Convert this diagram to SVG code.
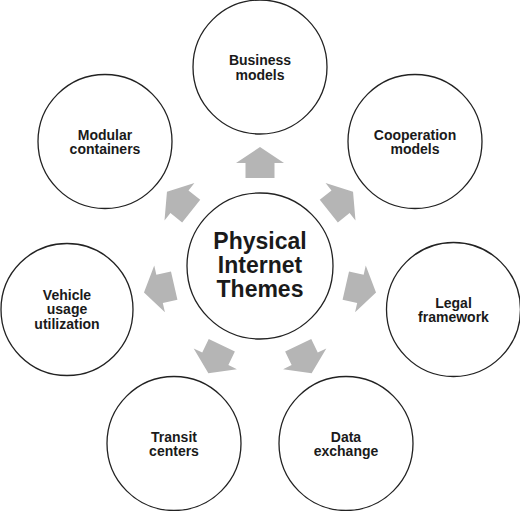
<svg xmlns="http://www.w3.org/2000/svg" xmlns:xlink="http://www.w3.org/1999/xlink" width="520" height="511" viewBox="0 0 520 511">
<style>
.c{fill:#fff;stroke:#222;stroke-width:1.3}
.t{font-family:"Liberation Sans",Arial,sans-serif;font-weight:bold;font-size:14px;fill:#1a1a1a;text-anchor:middle}
.tc{font-size:23px}
.a{fill:#b5b5b5}
</style>
<defs>
<polygon id="arr" class="a" points="245.5,178 245.5,163 236,163 260,147 284,163 274.5,163 274.5,178"/>
</defs>
<rect width="520" height="511" fill="#fff"/>
<g id="connectors">
<use href="#arr" xlink:href="#arr"/>
<use href="#arr" xlink:href="#arr" transform="rotate(51.4286 260 266)"/>
<use href="#arr" xlink:href="#arr" transform="rotate(102.857 260 266)"/>
<use href="#arr" xlink:href="#arr" transform="rotate(154.286 260 266)"/>
<use href="#arr" xlink:href="#arr" transform="rotate(205.714 260 266)"/>
<use href="#arr" xlink:href="#arr" transform="rotate(257.143 260 266)"/>
<use href="#arr" xlink:href="#arr" transform="rotate(308.571 260 266)"/>
</g>
<g id="center">
<circle class="c" cx="260" cy="266" r="73"/>
<text class="t tc" x="260" y="249">Physical</text>
<text class="t tc" x="260" y="273">Internet</text>
<text class="t tc" x="260" y="297">Themes</text>
</g>
<g id="business">
<circle class="c" cx="260" cy="67" r="67"/>
<text class="t" x="260" y="65">Business</text>
<text class="t" x="260" y="79.5">models</text>
</g>
<g id="cooperation">
<circle class="c" cx="415" cy="141.5" r="67"/>
<text class="t" x="415" y="139.5">Cooperation</text>
<text class="t" x="415" y="154">models</text>
</g>
<g id="legal">
<circle class="c" cx="453.5" cy="309.5" r="67"/>
<text class="t" x="453.5" y="307.5">Legal</text>
<text class="t" x="453.5" y="322">framework</text>
</g>
<g id="data">
<circle class="c" cx="346" cy="443.5" r="67"/>
<text class="t" x="346" y="441.5">Data</text>
<text class="t" x="346" y="456">exchange</text>
</g>
<g id="transit">
<circle class="c" cx="174" cy="443.5" r="67"/>
<text class="t" x="174" y="441.5">Transit</text>
<text class="t" x="174" y="456">centers</text>
</g>
<g id="vehicle">
<circle class="c" cx="67" cy="309.5" r="66"/>
<text class="t" x="67" y="299.5">Vehicle</text>
<text class="t" x="67" y="314">usage</text>
<text class="t" x="67" y="328.5">utilization</text>
</g>
<g id="modular">
<circle class="c" cx="105" cy="141.5" r="67"/>
<text class="t" x="105" y="139.5">Modular</text>
<text class="t" x="105" y="154">containers</text>
</g>
</svg>
